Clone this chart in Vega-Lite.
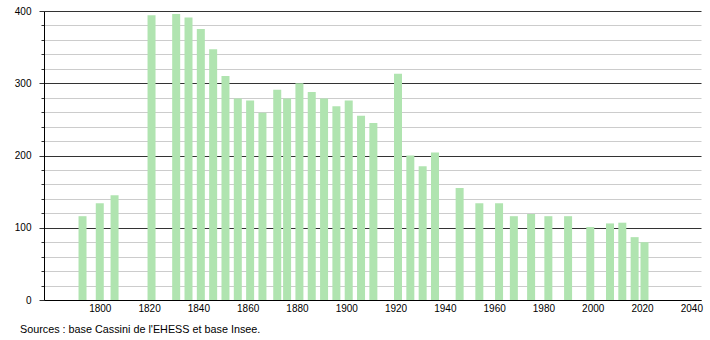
{
  "$schema": "https://vega.github.io/schema/vega-lite/v6.json",
  "autosize": {"type": "none"},
  "width": 657,
  "height": 289,
  "padding": {"left": 44, "top": 11, "right": 9, "bottom": 40},
  "background": "#ffffff",
  "config": {
    "view": {"stroke": null},
    "font": "Liberation Sans",
    "axis": {"labelFont": "Liberation Sans", "labelFontSize": 10, "labelColor": "#000000"}
  },
  "title": {
    "text": "Sources : base Cassini de l'EHESS et base Insee.",
    "orient": "bottom",
    "anchor": "start",
    "frame": "group",
    "dx": -24,
    "offset": 11,
    "font": "Liberation Sans",
    "fontSize": 10.8,
    "fontWeight": "normal",
    "color": "#000000"
  },
  "data": {
    "values": [
      {"year": 1793, "population": 116},
      {"year": 1800, "population": 134},
      {"year": 1806, "population": 145},
      {"year": 1821, "population": 394},
      {"year": 1831, "population": 396},
      {"year": 1836, "population": 391},
      {"year": 1841, "population": 375},
      {"year": 1846, "population": 347},
      {"year": 1851, "population": 310},
      {"year": 1856, "population": 279},
      {"year": 1861, "population": 276},
      {"year": 1866, "population": 259},
      {"year": 1872, "population": 291},
      {"year": 1876, "population": 279},
      {"year": 1881, "population": 300},
      {"year": 1886, "population": 288},
      {"year": 1891, "population": 279},
      {"year": 1896, "population": 268},
      {"year": 1901, "population": 276},
      {"year": 1906, "population": 255},
      {"year": 1911, "population": 245},
      {"year": 1921, "population": 313},
      {"year": 1926, "population": 200},
      {"year": 1931, "population": 185},
      {"year": 1936, "population": 204},
      {"year": 1946, "population": 155},
      {"year": 1954, "population": 134},
      {"year": 1962, "population": 134},
      {"year": 1968, "population": 116},
      {"year": 1975, "population": 119},
      {"year": 1982, "population": 116},
      {"year": 1990, "population": 116},
      {"year": 1999, "population": 101},
      {"year": 2007, "population": 106},
      {"year": 2012, "population": 107},
      {"year": 2017, "population": 87},
      {"year": 2021, "population": 80}
    ]
  },
  "mark": {"type": "bar", "size": 8, "color": "#b0e4b0"},
  "encoding": {
    "x": {
      "field": "year",
      "type": "quantitative",
      "scale": {"domain": [1779.4, 2041.9], "nice": false, "zero": false},
      "axis": {
        "title": null,
        "values": [1800, 1820, 1840, 1860, 1880, 1900, 1920, 1940, 1960, 1980, 2000, 2020, 2040],
        "format": "d",
        "ticks": false,
        "grid": false,
        "labelPadding": 3,
        "domainColor": "#000000",
        "domainWidth": 1,
        "labelFlush": false,
        "labelOverlap": false
      }
    },
    "y": {
      "field": "population",
      "type": "quantitative",
      "scale": {"domain": [0, 400], "nice": false},
      "axis": {
        "title": null,
        "values": [0, 20, 40, 60, 80, 100, 120, 140, 160, 180, 200, 220, 240, 260, 280, 300, 320, 340, 360, 380, 400],
        "labelExpr": "datum.value % 100 === 0 ? datum.label : ''",
        "labelPadding": 8,
        "tickSize": {"condition": {"test": "datum.value % 100 === 0", "value": 5}, "value": 3},
        "tickColor": "#333333",
        "gridColor": {"condition": {"test": "datum.value % 100 === 0", "value": "#333333"}, "value": "#cccccc"},
        "gridOpacity": 1,
        "gridWidth": 1,
        "domainColor": "#000000",
        "labelOverlap": false,
        "labelFlush": false
      }
    }
  }
}
